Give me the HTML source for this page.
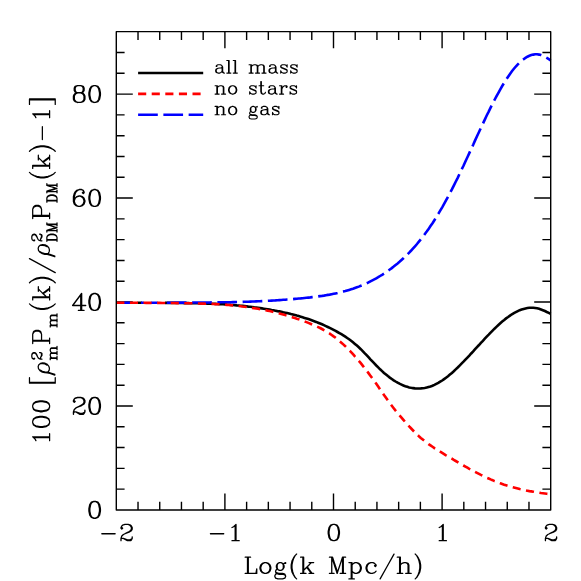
<!DOCTYPE html><html><head><meta charset="utf-8"><title>plot</title><style>html,body{margin:0;padding:0;background:#fff;font-family:"Liberation Serif",serif}svg{display:block}</style></head><body><svg width="581" height="581" viewBox="0 0 581 581">
<rect width="581" height="581" fill="#fff"/>
<path d="M138.02 509.95v-8.30M138.02 31.65v8.30M159.74 509.95v-8.30M159.74 31.65v8.30M181.46 509.95v-8.30M181.46 31.65v8.30M203.18 509.95v-8.30M203.18 31.65v8.30M224.90 509.95v-16.50M224.90 31.65v16.50M246.62 509.95v-8.30M246.62 31.65v8.30M268.34 509.95v-8.30M268.34 31.65v8.30M290.06 509.95v-8.30M290.06 31.65v8.30M311.78 509.95v-8.30M311.78 31.65v8.30M333.50 509.95v-16.50M333.50 31.65v16.50M355.22 509.95v-8.30M355.22 31.65v8.30M376.94 509.95v-8.30M376.94 31.65v8.30M398.66 509.95v-8.30M398.66 31.65v8.30M420.38 509.95v-8.30M420.38 31.65v8.30M442.10 509.95v-16.50M442.10 31.65v16.50M463.82 509.95v-8.30M463.82 31.65v8.30M485.54 509.95v-8.30M485.54 31.65v8.30M507.26 509.95v-8.30M507.26 31.65v8.30M528.98 509.95v-8.30M528.98 31.65v8.30M116.30 489.16h8.30M550.70 489.16h-8.30M116.30 468.37h8.30M550.70 468.37h-8.30M116.30 447.57h8.30M550.70 447.57h-8.30M116.30 426.78h8.30M550.70 426.78h-8.30M116.30 405.99h16.50M550.70 405.99h-16.50M116.30 385.20h8.30M550.70 385.20h-8.30M116.30 364.41h8.30M550.70 364.41h-8.30M116.30 343.61h8.30M550.70 343.61h-8.30M116.30 322.82h8.30M550.70 322.82h-8.30M116.30 302.03h16.50M550.70 302.03h-16.50M116.30 281.24h8.30M550.70 281.24h-8.30M116.30 260.45h8.30M550.70 260.45h-8.30M116.30 239.65h8.30M550.70 239.65h-8.30M116.30 218.86h8.30M550.70 218.86h-8.30M116.30 198.07h16.50M550.70 198.07h-16.50M116.30 177.28h8.30M550.70 177.28h-8.30M116.30 156.49h8.30M550.70 156.49h-8.30M116.30 135.69h8.30M550.70 135.69h-8.30M116.30 114.90h8.30M550.70 114.90h-8.30M116.30 94.11h16.50M550.70 94.11h-16.50M116.30 73.32h8.30M550.70 73.32h-8.30M116.30 52.53h8.30M550.70 52.53h-8.30" stroke="#000" stroke-width="1.40" fill="none"/>
<g fill="none" stroke-width="2.60">
<path d="M137.42 302.80L139.79 302.81L142.17 302.81M165.0 302.9L166.9 302.9L168.9 302.9L170.8 302.9L172.8 302.9L174.7 303.0L176.6 303.0L178.6 303.0L180.5 303.0L182.4 303.0L184.4 303.1L186.3 303.1L188.3 303.1L190.2 303.2L192.1 303.2L194.1 303.2L196.0 303.3L197.9 303.3L199.9 303.4L201.8 303.4L203.8 303.5L205.7 303.5L207.6 303.6L209.6 303.6L211.5 303.7L213.5 303.8L215.4 303.9L217.3 304.0L219.3 304.1L221.2 304.2L223.1 304.3L225.1 304.4L227.0 304.6L229.0 304.7L230.9 304.9L232.8 305.0L234.8 305.2L236.7 305.4L238.7 305.5L240.6 305.7L242.5 305.9L244.5 306.1L246.4 306.3L248.3 306.6L250.3 306.8L252.2 307.0L254.2 307.3L256.1 307.5L258.0 307.8L260.0 308.1L261.9 308.4L263.8 308.7L265.8 309.0L267.7 309.3L269.7 309.6L271.6 310.0L273.5 310.3L275.5 310.7L277.4 311.1L279.4 311.4L281.3 311.8L283.2 312.3L285.2 312.7L287.1 313.1L289.0 313.6L291.0 314.1L292.9 314.5L294.9 315.0L296.8 315.6L298.7 316.1L300.7 316.7L302.6 317.3L304.5 317.9L306.5 318.5L308.4 319.1L310.4 319.8L312.3 320.5L314.2 321.2L316.2 321.9L318.1 322.7L320.1 323.5L322.0 324.3L323.9 325.2L325.9 326.1L327.8 327.0L329.7 327.9L331.7 328.9L333.6 329.9L335.6 330.9L337.5 332.0L339.4 333.1L341.4 334.2L343.3 335.4L345.3 336.7L347.2 338.0L349.1 339.3L351.1 340.8L353.0 342.3L354.9 343.9L356.9 345.6L358.8 347.3L360.8 349.2L362.7 351.1L364.6 353.1L366.6 355.1L368.5 357.2L370.4 359.3L372.4 361.4L374.3 363.4L376.3 365.5L378.2 367.4L380.1 369.3L382.1 371.1L384.0 372.9L386.0 374.5L387.9 376.1L389.8 377.6L391.8 379.0L393.7 380.3L395.6 381.5L397.6 382.7L399.5 383.7L401.5 384.6L403.4 385.5L405.3 386.2L407.3 386.8L409.2 387.4L411.2 387.8L413.1 388.1L415.0 388.4L417.0 388.5L418.9 388.5L420.8 388.4L422.8 388.2L424.7 388.0L426.7 387.6L428.6 387.0L430.5 386.4L432.5 385.7L434.4 384.9L436.3 383.9L438.3 382.9L440.2 381.7L442.2 380.5L444.1 379.1L446.0 377.7L448.0 376.2L449.9 374.6L451.9 372.9L453.8 371.2L455.7 369.4L457.7 367.5L459.6 365.6L461.5 363.7L463.5 361.7L465.4 359.7L467.4 357.6L469.3 355.6L471.2 353.5L473.2 351.4L475.1 349.2L477.0 347.1L479.0 345.0L480.9 342.9L482.9 340.8L484.8 338.7L486.7 336.6L488.7 334.6L490.6 332.6L492.6 330.6L494.5 328.7L496.4 326.9L498.4 325.0L500.3 323.3L502.2 321.6L504.2 320.0L506.1 318.4L508.1 317.0L510.0 315.6L511.9 314.3L513.9 313.1L515.8 312.1L517.8 311.1L519.7 310.2L521.6 309.5L523.6 308.9L525.5 308.4L527.4 308.0L529.4 307.8L531.3 307.7L533.3 307.8L535.2 308.0L537.1 308.3L539.1 308.8L541.0 309.5L542.9 310.2L544.9 311.0L546.8 312.0L548.8 312.9L550.7 313.9" stroke="#000"/>
<path d="M123.82 302.80L126.05 302.80L128.27 302.80L130.50 302.80M140.97 302.80L142.53 302.80L144.10 302.79M151.02 302.78L153.25 302.77L155.47 302.76L157.70 302.74" stroke="#00f"/>
<path d="M165.0 302.7L166.9 302.7L168.9 302.7L170.8 302.7L172.8 302.7L174.7 302.6L176.6 302.6L178.6 302.6L180.5 302.6L182.4 302.6L184.4 302.6L186.3 302.5L188.3 302.5L190.2 302.5L192.1 302.5L194.1 302.5L196.0 302.5L197.9 302.5L199.9 302.5L201.8 302.5L203.8 302.5L205.7 302.5L207.6 302.5L209.6 302.5L211.5 302.4L213.5 302.4L215.4 302.4L217.3 302.4L219.3 302.4L221.2 302.3L223.1 302.3L225.1 302.3L227.0 302.2L229.0 302.2L230.9 302.2L232.8 302.1L234.8 302.1L236.7 302.0L238.7 302.0L240.6 301.9L242.5 301.9L244.5 301.8L246.4 301.7L248.3 301.7L250.3 301.6L252.2 301.5L254.2 301.5L256.1 301.4L258.0 301.3L260.0 301.2L261.9 301.1L263.8 301.0L265.8 300.9L267.7 300.8L269.7 300.7L271.6 300.6L273.5 300.5L275.5 300.4L277.4 300.2L279.4 300.1L281.3 300.0L283.2 299.8L285.2 299.7L287.1 299.5L289.0 299.4L291.0 299.2L292.9 299.1L294.9 298.9L296.8 298.7L298.7 298.5L300.7 298.4L302.6 298.2L304.5 298.0L306.5 297.8L308.4 297.6L310.4 297.4L312.3 297.1L314.2 296.9L316.2 296.7L318.1 296.4L320.1 296.1L322.0 295.9L323.9 295.6L325.9 295.2L327.8 294.9L329.7 294.6L331.7 294.2L333.6 293.8L335.6 293.4L337.5 293.0L339.4 292.5L341.4 292.1L343.3 291.6L345.3 291.1L347.2 290.5L349.1 289.9L351.1 289.3L353.0 288.7L354.9 288.0L356.9 287.3L358.8 286.6L360.8 285.8L362.7 285.0L364.6 284.2L366.6 283.3L368.5 282.4L370.4 281.4L372.4 280.4L374.3 279.4L376.3 278.3L378.2 277.2L380.1 276.0L382.1 274.8L384.0 273.6L386.0 272.3L387.9 270.9L389.8 269.5L391.8 268.1L393.7 266.6L395.6 265.0L397.6 263.4L399.5 261.8L401.5 260.0L403.4 258.3L405.3 256.4L407.3 254.5L409.2 252.6L411.2 250.5L413.1 248.4L415.0 246.3L417.0 244.0L418.9 241.7L420.8 239.3L422.8 236.8L424.7 234.3L426.7 231.6L428.6 228.9L430.5 226.1L432.5 223.2L434.4 220.2L436.3 217.1L438.3 213.9L440.2 210.6L442.2 207.3L444.1 203.9L446.0 200.4L448.0 196.8L449.9 193.1L451.9 189.4L453.8 185.6L455.7 181.7L457.7 177.8L459.6 173.8L461.5 169.8L463.5 165.7L465.4 161.5L467.4 157.3L469.3 153.1L471.2 148.9L473.2 144.7L475.1 140.4L477.0 136.2L479.0 132.0L480.9 127.8L482.9 123.7L484.8 119.6L486.7 115.5L488.7 111.6L490.6 107.6L492.6 103.8L494.5 100.0L496.4 96.4L498.4 92.8L500.3 89.3L502.2 86.0L504.2 82.8L506.1 79.7L508.1 76.7L510.0 73.9L511.9 71.3L513.9 68.8L515.8 66.5L517.8 64.4L519.7 62.5L521.6 60.7L523.6 59.2L525.5 57.9L527.4 56.7L529.4 55.8L531.3 55.1L533.3 54.6L535.2 54.3L537.1 54.3L539.1 54.6L541.0 55.1L542.9 55.8L544.9 56.8L546.8 57.9L548.8 59.1L550.7 60.3" stroke="#00f" stroke-dasharray="19.7 5.57" stroke-dashoffset="23.430"/>
<path d="M116.30 302.80L119.01 302.80L121.71 302.80L124.42 302.80M129.90 302.80L132.61 302.80L135.31 302.80L138.02 302.81M143.50 302.82L146.21 302.83L148.91 302.84L151.62 302.86M157.10 302.89L159.73 302.91L162.37 302.93L165.00 302.95" stroke="#f00"/>
<path d="M165.0 302.9L166.9 303.0L168.9 303.0L170.8 303.0L172.8 303.0L174.7 303.0L176.6 303.1L178.6 303.1L180.5 303.1L182.4 303.1L184.4 303.2L186.3 303.2L188.3 303.3L190.2 303.3L192.1 303.3L194.1 303.4L196.0 303.4L197.9 303.5L199.9 303.5L201.8 303.6L203.8 303.6L205.7 303.7L207.6 303.7L209.6 303.8L211.5 303.9L213.5 304.0L215.4 304.1L217.3 304.2L219.3 304.3L221.2 304.4L223.1 304.6L225.1 304.7L227.0 304.9L229.0 305.0L230.9 305.2L232.8 305.4L234.8 305.6L236.7 305.8L238.7 306.0L240.6 306.2L242.5 306.5L244.5 306.7L246.4 307.0L248.3 307.3L250.3 307.6L252.2 307.9L254.2 308.2L256.1 308.5L258.0 308.8L260.0 309.2L261.9 309.5L263.8 309.9L265.8 310.3L267.7 310.7L269.7 311.1L271.6 311.6L273.5 312.0L275.5 312.5L277.4 313.0L279.4 313.5L281.3 314.0L283.2 314.5L285.2 315.1L287.1 315.6L289.0 316.2L291.0 316.8L292.9 317.4L294.9 318.0L296.8 318.7L298.7 319.3L300.7 320.0L302.6 320.7L304.5 321.4L306.5 322.1L308.4 322.9L310.4 323.7L312.3 324.5L314.2 325.3L316.2 326.2L318.1 327.1L320.1 328.0L322.0 329.0L323.9 330.1L325.9 331.2L327.8 332.4L329.7 333.6L331.7 335.0L333.6 336.4L335.6 337.8L337.5 339.4L339.4 341.0L341.4 342.7L343.3 344.4L345.3 346.2L347.2 348.1L349.1 350.1L351.1 352.1L353.0 354.2L354.9 356.4L356.9 358.6L358.8 360.9L360.8 363.2L362.7 365.6L364.6 368.1L366.6 370.6L368.5 373.1L370.4 375.7L372.4 378.4L374.3 381.1L376.3 383.8L378.2 386.6L380.1 389.4L382.1 392.2L384.0 395.0L386.0 397.8L387.9 400.5L389.8 403.1L391.8 405.7L393.7 408.2L395.6 410.6L397.6 413.0L399.5 415.3L401.5 417.6L403.4 419.9L405.3 422.1L407.3 424.3L409.2 426.4L411.2 428.5L413.1 430.5L415.0 432.5L417.0 434.4L418.9 436.2L420.8 437.9L422.8 439.5L424.7 441.1L426.7 442.6L428.6 444.1L430.5 445.4L432.5 446.8L434.4 448.1L436.3 449.3L438.3 450.5L440.2 451.7L442.2 452.9L444.1 454.1L446.0 455.3L448.0 456.4L449.9 457.6L451.9 458.7L453.8 459.9L455.7 461.0L457.7 462.2L459.6 463.3L461.5 464.4L463.5 465.5L465.4 466.6L467.4 467.7L469.3 468.8L471.2 469.8L473.2 470.9L475.1 471.9L477.0 472.9L479.0 473.9L480.9 474.9L482.9 475.8L484.8 476.7L486.7 477.7L488.7 478.5L490.6 479.4L492.6 480.2L494.5 481.1L496.4 481.8L498.4 482.6L500.3 483.3L502.2 484.0L504.2 484.7L506.1 485.3L508.1 485.9L510.0 486.5L511.9 487.1L513.9 487.6L515.8 488.1L517.8 488.6L519.7 489.1L521.6 489.5L523.6 489.9L525.5 490.3L527.4 490.7L529.4 491.1L531.3 491.4L533.3 491.7L535.2 492.1L537.1 492.4L539.1 492.7L541.0 493.0L542.9 493.2L544.9 493.5L546.8 493.8L548.8 494.0L550.7 494.3" stroke="#f00" stroke-dasharray="8.12 5.48" stroke-dashoffset="7.900"/>
</g>
<g fill="none" stroke-width="2.60">
<path d="M138.1 73.0H203.2" stroke="#000"/>
<path d="M138.1 93.9H203.2" stroke="#f00" stroke-dasharray="8.12 5.48"/>
<path d="M138.1 114.8H203.2" stroke="#00f" stroke-dasharray="19.7 5.57"/>
</g>
<rect x="116.30" y="31.65" width="434.40" height="478.30" fill="none" stroke="#000" stroke-width="1.40" stroke-linejoin="round"/>
<g fill="none" stroke="#000" stroke-linecap="round" stroke-linejoin="round"><path stroke-width="1.1" d="M216.83 65.90L216.83 66.50L216.24 66.50L216.24 65.90L216.83 65.30L218.00 64.70L218.59 64.70L219.17 64.70L219.76 64.70L220.35 64.70L221.52 65.30L222.10 65.90L222.10 66.50L222.10 67.10L221.52 67.70L218.00 68.30L216.24 68.90L215.66 70.10L215.66 70.70L215.66 71.30L216.24 72.50L218.00 73.10L216.83 72.50L216.24 71.30L216.24 70.70L216.24 70.10L216.83 68.90L218.00 68.30M218.00 73.10L218.59 73.10L219.17 73.10L219.76 73.10L220.93 72.50L221.52 71.90L222.10 71.30L222.10 70.70L222.10 70.10L222.10 69.50L222.10 68.90L222.10 68.30L222.10 67.70L222.10 67.10M222.10 65.90L222.69 67.10L222.69 67.70L222.69 68.30L222.69 68.90L222.69 69.50L222.69 70.10L222.69 70.70L222.69 71.30L223.28 72.50L223.86 73.10L222.69 72.50L222.10 71.30M223.86 73.10L224.45 73.10M226.79 60.50L227.38 60.50L227.96 60.50L228.55 60.50L229.14 60.50L229.14 61.10L229.14 61.70L229.14 62.30L229.14 62.90L229.14 63.50L229.14 64.10L229.14 64.70L229.14 65.30L229.14 65.90L229.14 66.50L229.14 67.10L229.14 67.70L229.14 68.30L229.14 68.90L229.14 69.50L229.14 70.10L229.14 70.70L229.14 71.30L229.14 71.90L229.14 72.50L229.14 73.10L228.55 73.10L228.55 72.50L228.55 71.90L228.55 71.30L228.55 70.70L228.55 70.10L228.55 69.50L228.55 68.90L228.55 68.30L228.55 67.70L228.55 67.10L228.55 66.50L228.55 65.90L228.55 65.30L228.55 64.70L228.55 64.10L228.55 63.50L228.55 62.90L228.55 62.30L228.55 61.70L228.55 61.10L228.55 60.50M226.79 73.10L227.38 73.10L227.96 73.10L228.55 73.10M229.14 73.10L229.72 73.10L230.31 73.10L230.89 73.10M233.24 60.50L233.82 60.50L234.41 60.50L235.00 60.50L235.58 60.50L235.58 61.10L235.58 61.70L235.58 62.30L235.58 62.90L235.58 63.50L235.58 64.10L235.58 64.70L235.58 65.30L235.58 65.90L235.58 66.50L235.58 67.10L235.58 67.70L235.58 68.30L235.58 68.90L235.58 69.50L235.58 70.10L235.58 70.70L235.58 71.30L235.58 71.90L235.58 72.50L235.58 73.10L235.00 73.10L235.00 72.50L235.00 71.90L235.00 71.30L235.00 70.70L235.00 70.10L235.00 69.50L235.00 68.90L235.00 68.30L235.00 67.70L235.00 67.10L235.00 66.50L235.00 65.90L235.00 65.30L235.00 64.70L235.00 64.10L235.00 63.50L235.00 62.90L235.00 62.30L235.00 61.70L235.00 61.10L235.00 60.50M233.24 73.10L233.82 73.10L234.41 73.10L235.00 73.10M235.58 73.10L236.17 73.10L236.75 73.10L237.34 73.10M249.06 64.70L249.65 64.70L250.23 64.70L250.82 64.70L251.40 64.70L251.40 65.30L251.40 65.90L251.40 66.50L251.99 65.90L252.58 65.30L254.33 64.70L254.92 64.70L255.51 64.70L256.68 65.30L257.26 66.50L257.26 67.10L257.26 67.70L257.26 68.30L257.26 68.90L257.26 69.50L257.26 70.10L257.26 70.70L257.26 71.30L257.26 71.90L257.26 72.50L257.26 73.10L256.68 73.10L256.09 73.10L255.51 73.10M249.06 73.10L249.65 73.10L250.23 73.10L250.82 73.10L250.82 72.50L250.82 71.90L250.82 71.30L250.82 70.70L250.82 70.10L250.82 69.50L250.82 68.90L250.82 68.30L250.82 67.70L250.82 67.10L250.82 66.50L250.82 65.90L250.82 65.30L250.82 64.70M250.82 73.10L251.40 73.10L251.40 72.50L251.40 71.90L251.40 71.30L251.40 70.70L251.40 70.10L251.40 69.50L251.40 68.90L251.40 68.30L251.40 67.70L251.40 67.10L251.40 66.50M251.40 73.10L251.99 73.10L252.58 73.10L253.16 73.10M255.51 64.70L257.26 65.30L257.85 66.50L258.44 65.90L259.02 65.30L260.78 64.70L261.37 64.70L261.95 64.70L263.12 65.30L263.71 66.50L263.71 67.10L263.71 67.70L263.71 68.30L263.71 68.90L263.71 69.50L263.71 70.10L263.71 70.70L263.71 71.30L263.71 71.90L263.71 72.50L263.71 73.10L263.12 73.10L262.54 73.10L261.95 73.10M257.26 73.10L257.85 73.10L257.85 72.50L257.85 71.90L257.85 71.30L257.85 70.70L257.85 70.10L257.85 69.50L257.85 68.90L257.85 68.30L257.85 67.70L257.85 67.10L257.85 66.50M257.85 73.10L258.44 73.10L259.02 73.10L259.61 73.10M261.95 64.70L263.71 65.30L264.30 66.50L264.30 67.10L264.30 67.70L264.30 68.30L264.30 68.90L264.30 69.50L264.30 70.10L264.30 70.70L264.30 71.30L264.30 71.90L264.30 72.50L264.30 73.10L263.71 73.10M264.30 73.10L264.88 73.10L265.47 73.10L266.05 73.10M270.16 65.90L270.16 66.50L269.57 66.50L269.57 65.90L270.16 65.30L271.33 64.70L271.91 64.70L272.50 64.70L273.09 64.70L273.67 64.70L274.84 65.30L275.43 65.90L275.43 66.50L275.43 67.10L274.84 67.70L271.33 68.30L269.57 68.90L268.98 70.10L268.98 70.70L268.98 71.30L269.57 72.50L271.33 73.10L270.16 72.50L269.57 71.30L269.57 70.70L269.57 70.10L270.16 68.90L271.33 68.30M271.33 73.10L271.91 73.10L272.50 73.10L273.09 73.10L274.26 72.50L274.84 71.90L275.43 71.30L275.43 70.70L275.43 70.10L275.43 69.50L275.43 68.90L275.43 68.30L275.43 67.70L275.43 67.10M275.43 65.90L276.02 67.10L276.02 67.70L276.02 68.30L276.02 68.90L276.02 69.50L276.02 70.10L276.02 70.70L276.02 71.30L276.60 72.50L277.19 73.10L276.02 72.50L275.43 71.30M277.19 73.10L277.77 73.10M280.70 66.50L280.70 65.90L281.29 65.30L282.46 64.70L283.05 64.70L283.63 64.70L284.22 64.70L284.81 64.70L285.98 65.30L286.56 65.90L287.15 64.70L287.15 65.30L287.15 65.90L287.15 66.50L287.15 67.10L286.56 65.90M280.70 66.50L280.70 67.10L281.29 67.70L282.46 68.30L285.39 69.50L286.56 70.10L287.15 70.70L287.15 70.10L286.56 69.50L285.39 68.90L282.46 67.70L281.29 67.10L280.70 66.50M281.29 71.90L280.70 70.70L280.70 71.30L280.70 71.90L280.70 72.50L280.70 73.10L281.29 71.90L281.88 72.50L283.05 73.10L283.63 73.10L284.22 73.10L284.81 73.10L285.39 73.10L286.56 72.50L287.15 71.90L287.15 71.30L287.15 70.70M290.67 66.50L290.67 65.90L291.25 65.30L292.42 64.70L293.01 64.70L293.60 64.70L294.18 64.70L294.77 64.70L295.94 65.30L296.53 65.90L297.11 64.70L297.11 65.30L297.11 65.90L297.11 66.50L297.11 67.10L296.53 65.90M290.67 66.50L290.67 67.10L291.25 67.70L292.42 68.30L295.35 69.50L296.53 70.10L297.11 70.70L297.11 70.10L296.53 69.50L295.35 68.90L292.42 67.70L291.25 67.10L290.67 66.50M291.25 71.90L290.67 70.70L290.67 71.30L290.67 71.90L290.67 72.50L290.67 73.10L291.25 71.90L291.84 72.50L293.01 73.10L293.60 73.10L294.18 73.10L294.77 73.10L295.35 73.10L296.53 72.50L297.11 71.90L297.11 71.30L297.11 70.70M215.07 85.70L215.66 85.70L216.24 85.70L216.83 85.70L217.42 85.70L217.42 86.30L217.42 86.90L217.42 87.50L218.00 86.90L218.59 86.30L220.35 85.70L220.93 85.70L221.52 85.70L222.69 86.30L223.28 87.50L223.28 88.10L223.28 88.70L223.28 89.30L223.28 89.90L223.28 90.50L223.28 91.10L223.28 91.70L223.28 92.30L223.28 92.90L223.28 93.50L223.28 94.10L222.69 94.10L222.10 94.10L221.52 94.10M215.07 94.10L215.66 94.10L216.24 94.10L216.83 94.10L216.83 93.50L216.83 92.90L216.83 92.30L216.83 91.70L216.83 91.10L216.83 90.50L216.83 89.90L216.83 89.30L216.83 88.70L216.83 88.10L216.83 87.50L216.83 86.90L216.83 86.30L216.83 85.70M216.83 94.10L217.42 94.10L217.42 93.50L217.42 92.90L217.42 92.30L217.42 91.70L217.42 91.10L217.42 90.50L217.42 89.90L217.42 89.30L217.42 88.70L217.42 88.10L217.42 87.50M217.42 94.10L218.00 94.10L218.59 94.10L219.17 94.10M221.52 85.70L223.28 86.30L223.86 87.50L223.86 88.10L223.86 88.70L223.86 89.30L223.86 89.90L223.86 90.50L223.86 91.10L223.86 91.70L223.86 92.30L223.86 92.90L223.86 93.50L223.86 94.10L223.28 94.10M223.86 94.10L224.45 94.10L225.03 94.10L225.62 94.10M232.07 85.70L232.65 85.70L233.24 85.70L234.41 86.30L235.00 86.90L235.58 87.50L236.17 89.30L236.17 89.90L236.17 90.50L235.58 92.30L235.00 92.90L234.41 93.50L233.24 94.10L235.00 93.50L235.58 92.90L236.17 92.30L236.75 90.50L236.75 89.90L236.75 89.30L236.17 87.50L235.58 86.90L235.00 86.30L233.24 85.70M232.07 85.70L230.31 86.30L229.72 86.90L229.14 87.50L228.55 89.30L228.55 89.90L228.55 90.50L229.14 92.30L229.72 92.90L230.31 93.50L232.07 94.10L230.89 93.50L230.31 92.90L229.72 92.30L229.14 90.50L229.14 89.90L229.14 89.30L229.72 87.50L230.31 86.90L230.89 86.30L232.07 85.70M232.07 94.10L232.65 94.10L233.24 94.10M249.65 87.50L249.65 86.90L250.23 86.30L251.40 85.70L251.99 85.70L252.58 85.70L253.16 85.70L253.75 85.70L254.92 86.30L255.51 86.90L256.09 85.70L256.09 86.30L256.09 86.90L256.09 87.50L256.09 88.10L255.51 86.90M249.65 87.50L249.65 88.10L250.23 88.70L251.40 89.30L254.33 90.50L255.51 91.10L256.09 91.70L256.09 91.10L255.51 90.50L254.33 89.90L251.40 88.70L250.23 88.10L249.65 87.50M250.23 92.90L249.65 91.70L249.65 92.30L249.65 92.90L249.65 93.50L249.65 94.10L250.23 92.90L250.82 93.50L251.99 94.10L252.58 94.10L253.16 94.10L253.75 94.10L254.33 94.10L255.51 93.50L256.09 92.90L256.09 92.30L256.09 91.70M259.02 85.70L259.61 85.70L260.19 85.70L260.78 85.70L260.78 85.10L260.78 84.50L260.78 83.90L260.78 83.30L260.78 82.70L260.78 82.10L260.78 81.50M261.37 81.50L261.37 82.10L261.37 82.70L261.37 83.30L261.37 83.90L261.37 84.50L261.37 85.10L261.37 85.70L260.78 85.70L260.78 86.30L260.78 86.90L260.78 87.50L260.78 88.10L260.78 88.70L260.78 89.30L260.78 89.90L260.78 90.50L260.78 91.10L260.78 91.70L261.37 93.50L262.54 94.10L261.95 93.50L261.37 91.70L261.37 91.10L261.37 90.50L261.37 89.90L261.37 89.30L261.37 88.70L261.37 88.10L261.37 87.50L261.37 86.90L261.37 86.30L261.37 85.70L261.95 85.70L262.54 85.70L263.12 85.70L263.71 85.70M262.54 94.10L263.12 94.10L263.71 94.10L264.88 93.50L265.47 92.30M269.57 86.90L269.57 87.50L268.98 87.50L268.98 86.90L269.57 86.30L270.74 85.70L271.33 85.70L271.91 85.70L272.50 85.70L273.09 85.70L274.26 86.30L274.84 86.90L274.84 87.50L274.84 88.10L274.26 88.70L270.74 89.30L268.98 89.90L268.40 91.10L268.40 91.70L268.40 92.30L268.98 93.50L270.74 94.10L269.57 93.50L268.98 92.30L268.98 91.70L268.98 91.10L269.57 89.90L270.74 89.30M270.74 94.10L271.33 94.10L271.91 94.10L272.50 94.10L273.67 93.50L274.26 92.90L274.84 92.30L274.84 91.70L274.84 91.10L274.84 90.50L274.84 89.90L274.84 89.30L274.84 88.70L274.84 88.10M274.84 86.90L275.43 88.10L275.43 88.70L275.43 89.30L275.43 89.90L275.43 90.50L275.43 91.10L275.43 91.70L275.43 92.30L276.02 93.50L276.60 94.10L275.43 93.50L274.84 92.30M276.60 94.10L277.19 94.10M279.53 85.70L280.12 85.70L280.70 85.70L281.29 85.70L281.88 85.70L281.88 86.30L281.88 86.90L281.88 87.50L281.88 88.10L281.88 88.70L281.88 89.30L282.46 87.50L283.05 86.90L283.63 86.30L284.81 85.70L285.39 85.70L285.98 85.70L286.56 85.70L287.15 86.30L287.15 86.90L286.56 87.50L285.98 86.90L286.56 86.30M279.53 94.10L280.12 94.10L280.70 94.10L281.29 94.10L281.29 93.50L281.29 92.90L281.29 92.30L281.29 91.70L281.29 91.10L281.29 90.50L281.29 89.90L281.29 89.30L281.29 88.70L281.29 88.10L281.29 87.50L281.29 86.90L281.29 86.30L281.29 85.70M281.29 94.10L281.88 94.10L281.88 93.50L281.88 92.90L281.88 92.30L281.88 91.70L281.88 91.10L281.88 90.50L281.88 89.90L281.88 89.30M281.88 94.10L282.46 94.10L283.05 94.10L283.63 94.10M290.08 87.50L290.08 86.90L290.67 86.30L291.84 85.70L292.42 85.70L293.01 85.70L293.60 85.70L294.18 85.70L295.35 86.30L295.94 86.90L296.53 85.70L296.53 86.30L296.53 86.90L296.53 87.50L296.53 88.10L295.94 86.90M290.08 87.50L290.08 88.10L290.67 88.70L291.84 89.30L294.77 90.50L295.94 91.10L296.53 91.70L296.53 91.10L295.94 90.50L294.77 89.90L291.84 88.70L290.67 88.10L290.08 87.50M290.67 92.90L290.08 91.70L290.08 92.30L290.08 92.90L290.08 93.50L290.08 94.10L290.67 92.90L291.25 93.50L292.42 94.10L293.01 94.10L293.60 94.10L294.18 94.10L294.77 94.10L295.94 93.50L296.53 92.90L296.53 92.30L296.53 91.70M215.07 106.40L215.66 106.40L216.24 106.40L216.83 106.40L217.42 106.40L217.42 107.00L217.42 107.60L217.42 108.20L218.00 107.60L218.59 107.00L220.35 106.40L220.93 106.40L221.52 106.40L222.69 107.00L223.28 108.20L223.28 108.80L223.28 109.40L223.28 110.00L223.28 110.60L223.28 111.20L223.28 111.80L223.28 112.40L223.28 113.00L223.28 113.60L223.28 114.20L223.28 114.80L222.69 114.80L222.10 114.80L221.52 114.80M215.07 114.80L215.66 114.80L216.24 114.80L216.83 114.80L216.83 114.20L216.83 113.60L216.83 113.00L216.83 112.40L216.83 111.80L216.83 111.20L216.83 110.60L216.83 110.00L216.83 109.40L216.83 108.80L216.83 108.20L216.83 107.60L216.83 107.00L216.83 106.40M216.83 114.80L217.42 114.80L217.42 114.20L217.42 113.60L217.42 113.00L217.42 112.40L217.42 111.80L217.42 111.20L217.42 110.60L217.42 110.00L217.42 109.40L217.42 108.80L217.42 108.20M217.42 114.80L218.00 114.80L218.59 114.80L219.17 114.80M221.52 106.40L223.28 107.00L223.86 108.20L223.86 108.80L223.86 109.40L223.86 110.00L223.86 110.60L223.86 111.20L223.86 111.80L223.86 112.40L223.86 113.00L223.86 113.60L223.86 114.20L223.86 114.80L223.28 114.80M223.86 114.80L224.45 114.80L225.03 114.80L225.62 114.80M232.07 106.40L232.65 106.40L233.24 106.40L234.41 107.00L235.00 107.60L235.58 108.20L236.17 110.00L236.17 110.60L236.17 111.20L235.58 113.00L235.00 113.60L234.41 114.20L233.24 114.80L235.00 114.20L235.58 113.60L236.17 113.00L236.75 111.20L236.75 110.60L236.75 110.00L236.17 108.20L235.58 107.60L235.00 107.00L233.24 106.40M232.07 106.40L230.31 107.00L229.72 107.60L229.14 108.20L228.55 110.00L228.55 110.60L228.55 111.20L229.14 113.00L229.72 113.60L230.31 114.20L232.07 114.80L230.89 114.20L230.31 113.60L229.72 113.00L229.14 111.20L229.14 110.60L229.14 110.00L229.72 108.20L230.31 107.60L230.89 107.00L232.07 106.40M232.07 114.80L232.65 114.80L233.24 114.80M249.65 113.60L249.65 113.00L250.23 111.80L250.82 111.20L250.23 110.00L250.23 109.40L250.23 108.80L250.82 107.60L251.40 107.00L252.58 106.40L253.16 106.40L253.75 106.40L254.92 107.00L255.51 107.60L256.09 107.00L257.26 106.40L257.26 107.00L256.68 107.00L256.09 107.00M249.65 113.60L250.23 114.20L251.99 114.80L252.58 114.80L253.16 114.80L253.75 114.80L254.33 114.80L254.92 114.80L256.68 115.40L257.26 116.60L256.68 116.00L254.92 115.40L254.33 115.40L253.75 115.40L253.16 115.40L252.58 115.40L251.99 115.40L250.23 114.80L249.65 113.60M250.82 111.20L251.40 111.80L250.82 110.60L250.82 110.00L250.82 109.40L250.82 108.80L250.82 108.20L251.40 107.00M251.40 111.80L252.58 112.40L253.16 112.40L253.75 112.40L254.92 111.80L255.51 110.60L255.51 110.00L255.51 109.40L255.51 108.80L255.51 108.20L254.92 107.00M251.40 114.80L249.65 115.40L249.06 116.60L249.06 117.20L249.65 118.40L251.40 119.00L251.99 119.00L252.58 119.00L253.16 119.00L253.75 119.00L254.33 119.00L254.92 119.00L256.68 118.40L257.26 117.20L257.26 116.60M254.92 111.80L255.51 111.20L256.09 110.00L256.09 109.40L256.09 108.80L255.51 107.60M261.95 107.60L261.95 108.20L261.37 108.20L261.37 107.60L261.95 107.00L263.12 106.40L263.71 106.40L264.30 106.40L264.88 106.40L265.47 106.40L266.64 107.00L267.23 107.60L267.23 108.20L267.23 108.80L266.64 109.40L263.12 110.00L261.37 110.60L260.78 111.80L260.78 112.40L260.78 113.00L261.37 114.20L263.12 114.80L261.95 114.20L261.37 113.00L261.37 112.40L261.37 111.80L261.95 110.60L263.12 110.00M263.12 114.80L263.71 114.80L264.30 114.80L264.88 114.80L266.05 114.20L266.64 113.60L267.23 113.00L267.23 112.40L267.23 111.80L267.23 111.20L267.23 110.60L267.23 110.00L267.23 109.40L267.23 108.80M267.23 107.60L267.81 108.80L267.81 109.40L267.81 110.00L267.81 110.60L267.81 111.20L267.81 111.80L267.81 112.40L267.81 113.00L268.40 114.20L268.98 114.80L267.81 114.20L267.23 113.00M268.98 114.80L269.57 114.80M272.50 108.20L272.50 107.60L273.09 107.00L274.26 106.40L274.84 106.40L275.43 106.40L276.02 106.40L276.60 106.40L277.77 107.00L278.36 107.60L278.95 106.40L278.95 107.00L278.95 107.60L278.95 108.20L278.95 108.80L278.36 107.60M272.50 108.20L272.50 108.80L273.09 109.40L274.26 110.00L277.19 111.20L278.36 111.80L278.95 112.40L278.95 111.80L278.36 111.20L277.19 110.60L274.26 109.40L273.09 108.80L272.50 108.20M273.09 113.60L272.50 112.40L272.50 113.00L272.50 113.60L272.50 114.20L272.50 114.80L273.09 113.60L273.67 114.20L274.84 114.80L275.43 114.80L276.02 114.80L276.60 114.80L277.19 114.80L278.36 114.20L278.95 113.60L278.95 113.00L278.95 112.40"/><path stroke-width="1.25" d="M35.91 440.65L35.11 439.09L34.30 438.31L33.50 437.53L32.70 436.75L33.50 436.75L34.30 436.75L35.11 436.75L35.91 436.75L36.72 436.75L37.52 436.75L38.33 436.75L39.14 436.75L39.94 436.75L40.75 436.75L41.55 436.75L42.36 436.75L43.16 436.75L43.97 436.75L44.77 436.75L45.58 436.75L46.38 436.75L47.19 436.75L47.99 436.75L48.80 436.75L49.60 436.75L49.60 437.53L48.80 437.53L47.99 437.53L47.19 437.53L46.38 437.53L45.58 437.53L44.77 437.53L43.97 437.53L43.16 437.53L42.36 437.53L41.55 437.53L40.75 437.53L39.94 437.53L39.14 437.53L38.33 437.53L37.52 437.53L36.72 437.53L35.91 437.53L35.11 437.53L34.30 437.53L33.50 437.53M49.60 440.65L49.60 439.87L49.60 439.09L49.60 438.31L49.60 437.53M49.60 436.75L49.60 435.97L49.60 435.19L49.60 434.41L49.60 433.63M32.70 422.69L32.70 421.91L32.70 421.13L33.50 419.57L34.30 418.79L35.91 418.01L39.94 417.23L40.75 417.23L41.55 417.23L42.36 417.23L46.38 418.01L47.99 418.79L48.80 419.57L49.60 421.13L48.80 418.79L46.38 417.23L42.36 416.45L41.55 416.45L40.75 416.45L39.94 416.45L35.91 417.23L33.50 418.79L32.70 421.13M32.70 422.69L33.50 425.03L35.91 426.59L39.94 427.37L40.75 427.37L41.55 427.37L42.36 427.37L46.38 426.59L48.80 425.03L49.60 422.69L48.80 424.25L47.99 425.03L46.38 425.81L42.36 426.59L41.55 426.59L40.75 426.59L39.94 426.59L35.91 425.81L34.30 425.03L33.50 424.25L32.70 422.69M49.60 422.69L49.60 421.91L49.60 421.13M32.70 407.08L32.70 406.30L32.70 405.52L33.50 403.96L34.30 403.18L35.91 402.40L39.94 401.62L40.75 401.62L41.55 401.62L42.36 401.62L46.38 402.40L47.99 403.18L48.80 403.96L49.60 405.52L48.80 403.18L46.38 401.62L42.36 400.84L41.55 400.84L40.75 400.84L39.94 400.84L35.91 401.62L33.50 403.18L32.70 405.52M32.70 407.08L33.50 409.42L35.91 410.98L39.94 411.76L40.75 411.76L41.55 411.76L42.36 411.76L46.38 410.98L48.80 409.42L49.60 407.08L48.80 408.64L47.99 409.42L46.38 410.20L42.36 410.98L41.55 410.98L40.75 410.98L39.94 410.98L35.91 410.20L34.30 409.42L33.50 408.64L32.70 407.08M49.60 407.08L49.60 406.30L49.60 405.52M29.48 382.40L29.48 383.18L30.28 383.18L31.09 383.18L31.89 383.18L32.70 383.18L33.50 383.18L34.31 383.18L35.11 383.18L35.92 383.18L36.72 383.18L37.53 383.18L38.33 383.18L39.14 383.18L39.94 383.18L40.75 383.18L41.55 383.18L42.36 383.18L43.16 383.18L43.97 383.18L44.77 383.18L45.58 383.18L46.38 383.18L47.19 383.18L47.99 383.18L48.80 383.18L49.60 383.18L50.41 383.18L51.21 383.18L52.02 383.18L52.82 383.18L53.63 383.18L54.43 383.18L55.24 383.18L55.24 382.40L54.43 382.40L53.63 382.40L52.82 382.40L52.02 382.40L51.21 382.40L50.41 382.40L49.60 382.40L48.80 382.40L47.99 382.40L47.19 382.40L46.38 382.40L45.58 382.40L44.77 382.40L43.97 382.40L43.16 382.40L42.36 382.40L41.55 382.40L40.75 382.40L39.94 382.40L39.14 382.40L38.33 382.40L37.53 382.40L36.72 382.40L35.92 382.40L35.11 382.40L34.31 382.40L33.50 382.40L32.70 382.40L31.89 382.40L31.09 382.40L30.28 382.40L29.48 382.40L29.48 381.62L29.48 380.84L29.48 380.06L29.48 379.28L29.48 378.50L29.48 377.72M55.24 382.40L55.24 381.62L55.24 380.84L55.24 380.06L55.24 379.28L55.24 378.50L55.24 377.72M54.83 375.14L50.00 373.42L47.19 372.80L44.77 372.72L42.36 372.10L39.94 370.69L38.49 368.74L38.17 366.56L38.81 364.76L40.42 363.44L42.68 362.89L45.09 363.20L47.27 364.37L48.88 366.32L49.44 368.20L49.20 370.07L48.31 371.63L47.02 372.64M54.83 374.44L49.92 372.72L47.19 372.02L44.77 371.94L42.36 371.32L40.26 370.07M40.58 363.75L42.68 363.67L44.93 363.98L47.02 365.08M40.99 359.13L40.50 359.13L39.05 358.66L38.57 358.20L38.09 357.73L37.61 356.79L36.64 354.45L35.67 353.05L34.71 352.58L34.22 352.58L33.74 352.58L32.78 353.05L32.29 353.52L31.81 354.92L31.81 355.39L31.81 355.86L31.81 356.32L31.81 356.79L32.29 358.20L32.78 358.66L33.74 359.13L34.22 359.13L34.71 358.66L34.22 358.20L33.74 358.66M40.99 359.13L40.50 358.66L40.50 358.20L40.50 357.73L41.47 355.39L41.47 354.92L41.47 354.45L41.47 353.98L40.99 353.05L40.50 352.58L40.02 352.58L39.54 352.58M40.99 359.13L41.47 359.13L41.95 359.13M40.50 357.73L41.95 355.39L41.95 354.92L41.95 354.45L41.95 353.98L41.95 353.52L41.47 353.05L40.50 352.58M37.61 356.79L37.12 355.86L36.64 354.92L35.67 353.52L34.71 353.05L34.22 353.05L33.74 353.05L32.78 353.52L32.29 353.98L31.81 354.92M50.24 359.63L50.24 359.18L50.24 358.72L50.24 358.27L50.24 357.81L50.73 357.81L51.21 357.81L51.69 357.81L51.21 357.36L50.73 356.91L50.24 355.54L50.24 355.09L50.24 354.64L50.73 353.73L51.69 353.27L52.18 353.27L52.66 353.27L53.14 353.27L53.63 353.27L54.11 353.27L54.59 353.27L55.07 353.27L55.56 353.27L56.04 353.27L56.52 353.27L57.01 353.27L57.01 353.73L57.01 354.18L57.01 354.64M57.01 359.63L57.01 359.18L57.01 358.72L57.01 358.27L56.52 358.27L56.04 358.27L55.56 358.27L55.07 358.27L54.59 358.27L54.11 358.27L53.63 358.27L53.14 358.27L52.66 358.27L52.18 358.27L51.69 358.27L51.21 358.27L50.73 358.27L50.24 358.27M57.01 358.27L57.01 357.81L56.52 357.81L56.04 357.81L55.56 357.81L55.07 357.81L54.59 357.81L54.11 357.81L53.63 357.81L53.14 357.81L52.66 357.81L52.18 357.81L51.69 357.81M57.01 357.81L57.01 357.36L57.01 356.91L57.01 356.45M50.24 354.64L50.73 353.27L51.69 352.82L51.21 352.37L50.73 351.91L50.24 350.55L50.24 350.10L50.24 349.64L50.73 348.73L51.69 348.28L52.18 348.28L52.66 348.28L53.14 348.28L53.63 348.28L54.11 348.28L54.59 348.28L55.07 348.28L55.56 348.28L56.04 348.28L56.52 348.28L57.01 348.28L57.01 348.73L57.01 349.19L57.01 349.64M57.01 353.27L57.01 352.82L56.52 352.82L56.04 352.82L55.56 352.82L55.07 352.82L54.59 352.82L54.11 352.82L53.63 352.82L53.14 352.82L52.66 352.82L52.18 352.82L51.69 352.82M57.01 352.82L57.01 352.37L57.01 351.91L57.01 351.46M50.24 349.64L50.73 348.28L51.69 347.83L52.18 347.83L52.66 347.83L53.14 347.83L53.63 347.83L54.11 347.83L54.59 347.83L55.07 347.83L55.56 347.83L56.04 347.83L56.52 347.83L57.01 347.83L57.01 348.28M57.01 347.83L57.01 347.37L57.01 346.92L57.01 346.46M32.70 343.52L32.70 342.74L32.70 341.96L32.70 341.18L32.70 340.40L32.70 339.62L32.70 338.84L32.70 338.06L32.70 337.28L32.70 336.50L32.70 335.72L32.70 334.94L32.70 334.16L33.50 332.60L34.31 331.82L35.92 331.04L36.72 331.04L37.53 331.04L38.33 331.04L39.94 331.82L40.75 332.60L41.55 334.16L40.75 331.82L39.94 331.04L38.33 330.26L37.53 330.26L36.72 330.26L35.92 330.26L34.31 331.04L33.50 331.82L32.70 334.16M49.60 343.52L49.60 342.74L49.60 341.96L49.60 341.18L48.80 341.18L47.99 341.18L47.19 341.18L46.38 341.18L45.58 341.18L44.77 341.18L43.97 341.18L43.16 341.18L42.36 341.18L41.55 341.18L40.75 341.18L39.94 341.18L39.14 341.18L38.33 341.18L37.53 341.18L36.72 341.18L35.92 341.18L35.11 341.18L34.31 341.18L33.50 341.18L32.70 341.18M49.60 341.18L49.60 340.40L48.80 340.40L47.99 340.40L47.19 340.40L46.38 340.40L45.58 340.40L44.77 340.40L43.97 340.40L43.16 340.40L42.36 340.40L41.55 340.40L40.75 340.40L39.94 340.40L39.14 340.40L38.33 340.40L37.53 340.40L36.72 340.40L35.92 340.40L35.11 340.40L34.31 340.40L33.50 340.40L32.70 340.40M41.55 340.40L41.55 339.62L41.55 338.84L41.55 338.06L41.55 337.28L41.55 336.50L41.55 335.72L41.55 334.94L41.55 334.16M49.60 340.40L49.60 339.62L49.60 338.84L49.60 338.06M50.24 326.99L50.24 326.54L50.24 326.08L50.24 325.63L50.24 325.18L50.73 325.18L51.21 325.18L51.69 325.18L51.21 324.72L50.73 324.27L50.24 322.91L50.24 322.45L50.24 322.00L50.73 321.09L51.69 320.64L52.18 320.64L52.66 320.64L53.14 320.64L53.63 320.64L54.11 320.64L54.59 320.64L55.07 320.64L55.56 320.64L56.04 320.64L56.52 320.64L57.01 320.64L57.01 321.09L57.01 321.54L57.01 322.00M57.01 326.99L57.01 326.54L57.01 326.08L57.01 325.63L56.52 325.63L56.04 325.63L55.56 325.63L55.07 325.63L54.59 325.63L54.11 325.63L53.63 325.63L53.14 325.63L52.66 325.63L52.18 325.63L51.69 325.63L51.21 325.63L50.73 325.63L50.24 325.63M57.01 325.63L57.01 325.18L56.52 325.18L56.04 325.18L55.56 325.18L55.07 325.18L54.59 325.18L54.11 325.18L53.63 325.18L53.14 325.18L52.66 325.18L52.18 325.18L51.69 325.18M57.01 325.18L57.01 324.72L57.01 324.27L57.01 323.81M50.24 322.00L50.73 320.64L51.69 320.18L51.21 319.73L50.73 319.28L50.24 317.91L50.24 317.46L50.24 317.01L50.73 316.10L51.69 315.64L52.18 315.64L52.66 315.64L53.14 315.64L53.63 315.64L54.11 315.64L54.59 315.64L55.07 315.64L55.56 315.64L56.04 315.64L56.52 315.64L57.01 315.64L57.01 316.10L57.01 316.55L57.01 317.01M57.01 320.64L57.01 320.18L56.52 320.18L56.04 320.18L55.56 320.18L55.07 320.18L54.59 320.18L54.11 320.18L53.63 320.18L53.14 320.18L52.66 320.18L52.18 320.18L51.69 320.18M57.01 320.18L57.01 319.73L57.01 319.28L57.01 318.82M50.24 317.01L50.73 315.64L51.69 315.19L52.18 315.19L52.66 315.19L53.14 315.19L53.63 315.19L54.11 315.19L54.59 315.19L55.07 315.19L55.56 315.19L56.04 315.19L56.52 315.19L57.01 315.19L57.01 315.64M57.01 315.19L57.01 314.74L57.01 314.28L57.01 313.83M31.09 305.42L30.28 304.64L29.48 303.86M31.09 305.42L32.70 306.20L34.31 306.98L36.72 307.76L40.75 308.54L41.55 308.54L42.36 308.54L43.16 308.54L43.97 308.54L47.99 307.76L50.41 306.98L52.02 306.20L53.63 305.42L51.21 306.98L49.60 307.76L47.99 308.54L43.97 309.32L43.16 309.32L42.36 309.32L41.55 309.32L40.75 309.32L36.72 308.54L35.11 307.76L33.50 306.98L31.09 305.42M53.63 305.42L54.43 304.64L55.24 303.86M32.70 299.95L32.70 299.17L32.70 298.39L32.70 297.61L32.70 296.83L33.50 296.83L34.31 296.83L35.11 296.83L35.92 296.83L36.72 296.83L37.53 296.83L38.33 296.83L39.14 296.83L39.94 296.83L40.75 296.83L41.55 296.83L42.36 296.83L43.16 296.83L43.97 296.83L44.77 296.83L45.58 296.83L46.38 296.83L45.58 296.05L44.77 295.27L43.97 294.49L43.16 293.71L42.36 292.93L41.55 292.15L40.75 291.37L39.94 290.59L39.14 289.81L38.33 289.03L38.33 289.81L38.33 290.59L38.33 291.37M49.60 299.95L49.60 299.17L49.60 298.39L49.60 297.61L48.80 297.61L47.99 297.61L47.19 297.61L46.38 297.61L45.58 297.61L44.77 297.61L43.97 297.61L43.16 297.61L42.36 297.61L41.55 297.61L40.75 297.61L39.94 297.61L39.14 297.61L38.33 297.61L37.53 297.61L36.72 297.61L35.92 297.61L35.11 297.61L34.31 297.61L33.50 297.61L32.70 297.61M49.60 297.61L49.60 296.83L48.80 296.83L47.99 296.83L47.19 296.83L46.38 296.83M49.60 296.83L49.60 296.05L49.60 295.27L49.60 294.49M43.16 293.71L46.38 291.37L49.60 289.03L49.60 289.81L49.60 290.59L49.60 291.37M43.16 292.93L46.38 290.59L49.60 288.25L49.60 289.03M38.33 289.03L38.33 288.25L38.33 287.47L38.33 286.69M49.60 288.25L49.60 287.47L49.60 286.69M29.48 282.77L30.28 281.99L31.09 281.21L32.70 280.43L34.31 279.65L36.72 278.87L40.75 278.09L41.55 278.09L42.36 278.09L43.16 278.09L43.97 278.09L47.99 278.87L50.41 279.65L52.02 280.43L53.63 281.21L51.21 279.65L49.60 278.87L47.99 278.09L43.97 277.31L43.16 277.31L42.36 277.31L41.55 277.31L40.75 277.31L36.72 278.09L35.11 278.87L33.50 279.65L31.09 281.21M55.24 282.77L54.43 281.99L53.63 281.21M55.24 272.62L42.36 265.60L29.48 258.58M54.83 256.77L50.00 255.06L47.19 254.43L44.77 254.35L42.36 253.73L39.94 252.33L38.49 250.38L38.17 248.19L38.81 246.40L40.42 245.07L42.68 244.53L45.09 244.84L47.27 246.01L48.88 247.96L49.44 249.83L49.20 251.70L48.31 253.26L47.02 254.28M54.83 256.07L49.92 254.35L47.19 253.65L44.77 253.57L42.36 252.95L40.26 251.70M40.58 245.38L42.68 245.31L44.93 245.62L47.02 246.71M40.99 240.77L40.50 240.77L39.05 240.30L38.57 239.83L38.09 239.36L37.61 238.43L36.64 236.09L35.67 234.68L34.71 234.21L34.22 234.21L33.74 234.21L32.78 234.68L32.29 235.15L31.81 236.55L31.81 237.02L31.81 237.49L31.81 237.96L31.81 238.43L32.29 239.83L32.78 240.30L33.74 240.77L34.22 240.77L34.71 240.30L34.22 239.83L33.74 240.30M40.99 240.77L40.50 240.30L40.50 239.83L40.50 239.36L41.47 237.02L41.47 236.55L41.47 236.09L41.47 235.62L40.99 234.68L40.50 234.21L40.02 234.21L39.54 234.21M40.99 240.77L41.47 240.77L41.95 240.77M40.50 239.36L41.95 237.02L41.95 236.55L41.95 236.09L41.95 235.62L41.95 235.15L41.47 234.68L40.50 234.21M37.61 238.43L37.12 237.49L36.64 236.55L35.67 235.15L34.71 234.68L34.22 234.68L33.74 234.68L32.78 235.15L32.29 235.62L31.81 236.55M46.86 241.33L46.86 240.91L46.86 240.49L46.86 240.06L46.86 239.64L46.86 239.22L46.86 238.80L46.86 238.38L46.86 237.96L46.86 237.54L46.86 237.12L47.35 236.27L47.83 235.85L48.31 235.43L49.28 235.01L50.73 234.59L51.21 234.59L51.69 234.59L52.18 234.59L52.66 234.59L53.14 234.59L54.59 235.01L55.56 235.43L56.04 235.85L56.52 236.27L57.01 237.12L56.52 235.85L56.04 235.43L55.56 235.01L54.59 234.59L53.14 234.17L52.66 234.17L52.18 234.17L51.69 234.17L51.21 234.17L50.73 234.17L49.28 234.59L48.31 235.01L47.83 235.43L47.35 235.85L46.86 237.12M57.01 241.33L57.01 240.91L57.01 240.49L57.01 240.06L56.52 240.06L56.04 240.06L55.56 240.06L55.07 240.06L54.59 240.06L54.11 240.06L53.63 240.06L53.14 240.06L52.66 240.06L52.18 240.06L51.69 240.06L51.21 240.06L50.73 240.06L50.24 240.06L49.76 240.06L49.28 240.06L48.80 240.06L48.31 240.06L47.83 240.06L47.35 240.06L46.86 240.06M57.01 240.06L57.01 239.64L56.52 239.64L56.04 239.64L55.56 239.64L55.07 239.64L54.59 239.64L54.11 239.64L53.63 239.64L53.14 239.64L52.66 239.64L52.18 239.64L51.69 239.64L51.21 239.64L50.73 239.64L50.24 239.64L49.76 239.64L49.28 239.64L48.80 239.64L48.31 239.64L47.83 239.64L47.35 239.64L46.86 239.64M57.01 239.64L57.01 239.22L57.01 238.80L57.01 238.38L57.01 237.96L57.01 237.54L57.01 237.12M46.86 232.02L46.86 231.59L46.86 231.15L46.86 230.72L46.86 230.28L48.31 229.85L49.76 229.41L51.21 228.98L52.66 228.54L54.11 228.11L55.56 227.67M57.01 232.02L57.01 231.59L57.01 231.15L57.01 230.72L56.52 230.72L56.04 230.72L55.56 230.72L55.07 230.72L54.59 230.72L54.11 230.72L53.63 230.72L53.14 230.72L52.66 230.72L52.18 230.72L51.69 230.72L51.21 230.72L50.73 230.72L50.24 230.72L49.76 230.72L49.28 230.72L48.80 230.72L48.31 230.72L47.83 230.72L47.35 230.72L46.86 230.72L48.31 230.28L49.76 229.85L51.21 229.41L52.66 228.98L54.11 228.54L55.56 228.11L57.01 227.67L55.56 227.24L54.11 226.80L52.66 226.37L51.21 225.93L49.76 225.50L48.31 225.06L46.86 224.63L46.86 224.19L46.86 223.76L46.86 223.32L46.86 222.88M57.01 230.72L57.01 230.28L57.01 229.85L57.01 229.41M57.01 225.93L57.01 225.50L57.01 225.06L57.01 224.63L56.52 224.63L56.04 224.63L55.56 224.63L55.07 224.63L54.59 224.63L54.11 224.63L53.63 224.63L53.14 224.63L52.66 224.63L52.18 224.63L51.69 224.63L51.21 224.63L50.73 224.63L50.24 224.63L49.76 224.63L49.28 224.63L48.80 224.63L48.31 224.63L47.83 224.63L47.35 224.63L46.86 224.63M57.01 224.63L57.01 224.19L56.52 224.19L56.04 224.19L55.56 224.19L55.07 224.19L54.59 224.19L54.11 224.19L53.63 224.19L53.14 224.19L52.66 224.19L52.18 224.19L51.69 224.19L51.21 224.19L50.73 224.19L50.24 224.19L49.76 224.19L49.28 224.19L48.80 224.19L48.31 224.19L47.83 224.19L47.35 224.19L46.86 224.19M57.01 224.19L57.01 223.76L57.01 223.32L57.01 222.88M32.70 218.59L32.70 217.81L32.70 217.03L32.70 216.25L32.70 215.47L32.70 214.69L32.70 213.91L32.70 213.13L32.70 212.35L32.70 211.57L32.70 210.79L32.70 210.01L32.70 209.23L33.50 207.67L34.31 206.89L35.92 206.11L36.72 206.11L37.53 206.11L38.33 206.11L39.94 206.89L40.75 207.67L41.55 209.23L40.75 206.89L39.94 206.11L38.33 205.33L37.53 205.33L36.72 205.33L35.92 205.33L34.31 206.11L33.50 206.89L32.70 209.23M49.60 218.59L49.60 217.81L49.60 217.03L49.60 216.25L48.80 216.25L47.99 216.25L47.19 216.25L46.38 216.25L45.58 216.25L44.77 216.25L43.97 216.25L43.16 216.25L42.36 216.25L41.55 216.25L40.75 216.25L39.94 216.25L39.14 216.25L38.33 216.25L37.53 216.25L36.72 216.25L35.92 216.25L35.11 216.25L34.31 216.25L33.50 216.25L32.70 216.25M49.60 216.25L49.60 215.47L48.80 215.47L47.99 215.47L47.19 215.47L46.38 215.47L45.58 215.47L44.77 215.47L43.97 215.47L43.16 215.47L42.36 215.47L41.55 215.47L40.75 215.47L39.94 215.47L39.14 215.47L38.33 215.47L37.53 215.47L36.72 215.47L35.92 215.47L35.11 215.47L34.31 215.47L33.50 215.47L32.70 215.47M41.55 215.47L41.55 214.69L41.55 213.91L41.55 213.13L41.55 212.35L41.55 211.57L41.55 210.79L41.55 210.01L41.55 209.23M49.60 215.47L49.60 214.69L49.60 213.91L49.60 213.13M46.86 202.13L46.86 201.71L46.86 201.29L46.86 200.87L46.86 200.45L46.86 200.03L46.86 199.61L46.86 199.18L46.86 198.76L46.86 198.34L46.86 197.92L47.35 197.08L47.83 196.66L48.31 196.24L49.28 195.82L50.73 195.39L51.21 195.39L51.69 195.39L52.18 195.39L52.66 195.39L53.14 195.39L54.59 195.82L55.56 196.24L56.04 196.66L56.52 197.08L57.01 197.92L56.52 196.66L56.04 196.24L55.56 195.82L54.59 195.39L53.14 194.97L52.66 194.97L52.18 194.97L51.69 194.97L51.21 194.97L50.73 194.97L49.28 195.39L48.31 195.82L47.83 196.24L47.35 196.66L46.86 197.92M57.01 202.13L57.01 201.71L57.01 201.29L57.01 200.87L56.52 200.87L56.04 200.87L55.56 200.87L55.07 200.87L54.59 200.87L54.11 200.87L53.63 200.87L53.14 200.87L52.66 200.87L52.18 200.87L51.69 200.87L51.21 200.87L50.73 200.87L50.24 200.87L49.76 200.87L49.28 200.87L48.80 200.87L48.31 200.87L47.83 200.87L47.35 200.87L46.86 200.87M57.01 200.87L57.01 200.45L56.52 200.45L56.04 200.45L55.56 200.45L55.07 200.45L54.59 200.45L54.11 200.45L53.63 200.45L53.14 200.45L52.66 200.45L52.18 200.45L51.69 200.45L51.21 200.45L50.73 200.45L50.24 200.45L49.76 200.45L49.28 200.45L48.80 200.45L48.31 200.45L47.83 200.45L47.35 200.45L46.86 200.45M57.01 200.45L57.01 200.03L57.01 199.61L57.01 199.18L57.01 198.76L57.01 198.34L57.01 197.92M46.86 192.83L46.86 192.39L46.86 191.96L46.86 191.52L46.86 191.09L48.31 190.65L49.76 190.22L51.21 189.78L52.66 189.35L54.11 188.91L55.56 188.48M57.01 192.83L57.01 192.39L57.01 191.96L57.01 191.52L56.52 191.52L56.04 191.52L55.56 191.52L55.07 191.52L54.59 191.52L54.11 191.52L53.63 191.52L53.14 191.52L52.66 191.52L52.18 191.52L51.69 191.52L51.21 191.52L50.73 191.52L50.24 191.52L49.76 191.52L49.28 191.52L48.80 191.52L48.31 191.52L47.83 191.52L47.35 191.52L46.86 191.52L48.31 191.09L49.76 190.65L51.21 190.22L52.66 189.78L54.11 189.35L55.56 188.91L57.01 188.48L55.56 188.04L54.11 187.61L52.66 187.17L51.21 186.74L49.76 186.30L48.31 185.87L46.86 185.43L46.86 185.00L46.86 184.56L46.86 184.12L46.86 183.69M57.01 191.52L57.01 191.09L57.01 190.65L57.01 190.22M57.01 186.74L57.01 186.30L57.01 185.87L57.01 185.43L56.52 185.43L56.04 185.43L55.56 185.43L55.07 185.43L54.59 185.43L54.11 185.43L53.63 185.43L53.14 185.43L52.66 185.43L52.18 185.43L51.69 185.43L51.21 185.43L50.73 185.43L50.24 185.43L49.76 185.43L49.28 185.43L48.80 185.43L48.31 185.43L47.83 185.43L47.35 185.43L46.86 185.43M57.01 185.43L57.01 185.00L56.52 185.00L56.04 185.00L55.56 185.00L55.07 185.00L54.59 185.00L54.11 185.00L53.63 185.00L53.14 185.00L52.66 185.00L52.18 185.00L51.69 185.00L51.21 185.00L50.73 185.00L50.24 185.00L49.76 185.00L49.28 185.00L48.80 185.00L48.31 185.00L47.83 185.00L47.35 185.00L46.86 185.00M57.01 185.00L57.01 184.56L57.01 184.12L57.01 183.69M31.09 173.94L30.28 173.16L29.48 172.38M31.09 173.94L32.70 174.72L34.31 175.50L36.72 176.28L40.75 177.06L41.55 177.06L42.36 177.06L43.16 177.06L43.97 177.06L47.99 176.28L50.41 175.50L52.02 174.72L53.63 173.94L51.21 175.50L49.60 176.28L47.99 177.06L43.97 177.84L43.16 177.84L42.36 177.84L41.55 177.84L40.75 177.84L36.72 177.06L35.11 176.28L33.50 175.50L31.09 173.94M53.63 173.94L54.43 173.16L55.24 172.38M32.70 168.47L32.70 167.69L32.70 166.91L32.70 166.13L32.70 165.35L33.50 165.35L34.31 165.35L35.11 165.35L35.92 165.35L36.72 165.35L37.53 165.35L38.33 165.35L39.14 165.35L39.94 165.35L40.75 165.35L41.55 165.35L42.36 165.35L43.16 165.35L43.97 165.35L44.77 165.35L45.58 165.35L46.38 165.35L45.58 164.57L44.77 163.79L43.97 163.01L43.16 162.23L42.36 161.45L41.55 160.67L40.75 159.89L39.94 159.11L39.14 158.33L38.33 157.55L38.33 158.33L38.33 159.11L38.33 159.89M49.60 168.47L49.60 167.69L49.60 166.91L49.60 166.13L48.80 166.13L47.99 166.13L47.19 166.13L46.38 166.13L45.58 166.13L44.77 166.13L43.97 166.13L43.16 166.13L42.36 166.13L41.55 166.13L40.75 166.13L39.94 166.13L39.14 166.13L38.33 166.13L37.53 166.13L36.72 166.13L35.92 166.13L35.11 166.13L34.31 166.13L33.50 166.13L32.70 166.13M49.60 166.13L49.60 165.35L48.80 165.35L47.99 165.35L47.19 165.35L46.38 165.35M49.60 165.35L49.60 164.57L49.60 163.79L49.60 163.01M43.16 162.23L46.38 159.89L49.60 157.55L49.60 158.33L49.60 159.11L49.60 159.89M43.16 161.45L46.38 159.11L49.60 156.77L49.60 157.55M38.33 157.55L38.33 156.77L38.33 155.99L38.33 155.21M49.60 156.77L49.60 155.99L49.60 155.21M29.48 151.29L30.28 150.51L31.09 149.73L32.70 148.95L34.31 148.17L36.72 147.39L40.75 146.61L41.55 146.61L42.36 146.61L43.16 146.61L43.97 146.61L47.99 147.39L50.41 148.17L52.02 148.95L53.63 149.73L51.21 148.17L49.60 147.39L47.99 146.61L43.97 145.83L43.16 145.83L42.36 145.83L41.55 145.83L40.75 145.83L36.72 146.61L35.11 147.39L33.50 148.17L31.09 149.73M55.24 151.29L54.43 150.51L53.63 149.73M42.36 139.58L42.36 126.63M35.92 117.72L35.11 116.16L34.31 115.38L33.50 114.60L32.70 113.82L33.50 113.82L34.31 113.82L35.11 113.82L35.92 113.82L36.72 113.82L37.53 113.82L38.33 113.82L39.14 113.82L39.94 113.82L40.75 113.82L41.55 113.82L42.36 113.82L43.16 113.82L43.97 113.82L44.77 113.82L45.58 113.82L46.38 113.82L47.19 113.82L47.99 113.82L48.80 113.82L49.60 113.82L49.60 114.60L48.80 114.60L47.99 114.60L47.19 114.60L46.38 114.60L45.58 114.60L44.77 114.60L43.97 114.60L43.16 114.60L42.36 114.60L41.55 114.60L40.75 114.60L39.94 114.60L39.14 114.60L38.33 114.60L37.53 114.60L36.72 114.60L35.92 114.60L35.11 114.60L34.31 114.60L33.50 114.60M49.60 117.72L49.60 116.94L49.60 116.16L49.60 115.38L49.60 114.60M49.60 113.82L49.60 113.04L49.60 112.26L49.60 111.48L49.60 110.70M29.48 104.44L29.48 103.66L29.48 102.88L29.48 102.10L29.48 101.32L29.48 100.54L29.48 99.76L29.48 98.98L30.28 98.98L31.09 98.98L31.89 98.98L32.70 98.98L33.50 98.98L34.31 98.98L35.11 98.98L35.92 98.98L36.72 98.98L37.53 98.98L38.33 98.98L39.14 98.98L39.94 98.98L40.75 98.98L41.55 98.98L42.36 98.98L43.16 98.98L43.97 98.98L44.77 98.98L45.58 98.98L46.38 98.98L47.19 98.98L47.99 98.98L48.80 98.98L49.60 98.98L50.41 98.98L51.21 98.98L52.02 98.98L52.82 98.98L53.63 98.98L54.43 98.98L55.24 98.98L55.24 99.76L54.43 99.76L53.63 99.76L52.82 99.76L52.02 99.76L51.21 99.76L50.41 99.76L49.60 99.76L48.80 99.76L47.99 99.76L47.19 99.76L46.38 99.76L45.58 99.76L44.77 99.76L43.97 99.76L43.16 99.76L42.36 99.76L41.55 99.76L40.75 99.76L39.94 99.76L39.14 99.76L38.33 99.76L37.53 99.76L36.72 99.76L35.92 99.76L35.11 99.76L34.31 99.76L33.50 99.76L32.70 99.76L31.89 99.76L31.09 99.76L30.28 99.76L29.48 99.76M55.24 104.44L55.24 103.66L55.24 102.88L55.24 102.10L55.24 101.32L55.24 100.54L55.24 99.76"/><path stroke-width="1.3" d="M101.84 533.73L115.12 533.73M121.00 539.15L121.00 538.38L121.80 536.05L122.60 535.28L123.40 534.50L125.00 533.73L129.00 532.18L131.40 530.62L132.20 529.08L132.20 528.30L132.20 527.53L131.40 525.98L130.60 525.20L128.20 524.43L127.40 524.43L126.60 524.43L125.80 524.43L125.00 524.43L122.60 525.20L121.80 525.98L121.00 527.53L121.00 528.30L121.80 529.08L122.60 528.30L121.80 527.53M121.00 539.15L121.80 538.38L122.60 538.38L123.40 538.38L127.40 539.93L128.20 539.93L129.00 539.93L129.80 539.93L131.40 539.15L132.20 538.38L132.20 537.60L132.20 536.83M121.00 539.15L121.00 539.93L121.00 540.70M123.40 538.38L127.40 540.70L128.20 540.70L129.00 540.70L129.80 540.70L130.60 540.70L131.40 539.93L132.20 538.38M125.00 533.73L126.60 532.95L128.20 532.18L130.60 530.62L131.40 529.08L131.40 528.30L131.40 527.53L130.60 525.98L129.80 525.20L128.20 524.43M210.44 533.73L223.72 533.73M232.00 527.53L233.60 526.75L234.40 525.98L235.20 525.20L236.00 524.43L236.00 525.20L236.00 525.98L236.00 526.75L236.00 527.53L236.00 528.30L236.00 529.08L236.00 529.85L236.00 530.62L236.00 531.40L236.00 532.18L236.00 532.95L236.00 533.73L236.00 534.50L236.00 535.28L236.00 536.05L236.00 536.83L236.00 537.60L236.00 538.38L236.00 539.15L236.00 539.93L236.00 540.70L235.20 540.70L235.20 539.93L235.20 539.15L235.20 538.38L235.20 537.60L235.20 536.83L235.20 536.05L235.20 535.28L235.20 534.50L235.20 533.73L235.20 532.95L235.20 532.18L235.20 531.40L235.20 530.62L235.20 529.85L235.20 529.08L235.20 528.30L235.20 527.53L235.20 526.75L235.20 525.98L235.20 525.20M232.00 540.70L232.80 540.70L233.60 540.70L234.40 540.70L235.20 540.70M236.00 540.70L236.80 540.70L237.60 540.70L238.40 540.70L239.20 540.70M333.02 524.43L333.82 524.43L334.62 524.43L336.22 525.20L337.02 525.98L337.82 527.53L338.62 531.40L338.62 532.18L338.62 532.95L338.62 533.73L337.82 537.60L337.02 539.15L336.22 539.93L334.62 540.70L337.02 539.93L338.62 537.60L339.42 533.73L339.42 532.95L339.42 532.18L339.42 531.40L338.62 527.53L337.02 525.20L334.62 524.43M333.02 524.43L330.62 525.20L329.02 527.53L328.22 531.40L328.22 532.18L328.22 532.95L328.22 533.73L329.02 537.60L330.62 539.93L333.02 540.70L331.42 539.93L330.62 539.15L329.82 537.60L329.02 533.73L329.02 532.95L329.02 532.18L329.02 531.40L329.82 527.53L330.62 525.98L331.42 525.20L333.02 524.43M333.02 540.70L333.82 540.70L334.62 540.70M439.22 527.53L440.82 526.75L441.62 525.98L442.42 525.20L443.22 524.43L443.22 525.20L443.22 525.98L443.22 526.75L443.22 527.53L443.22 528.30L443.22 529.08L443.22 529.85L443.22 530.62L443.22 531.40L443.22 532.18L443.22 532.95L443.22 533.73L443.22 534.50L443.22 535.28L443.22 536.05L443.22 536.83L443.22 537.60L443.22 538.38L443.22 539.15L443.22 539.93L443.22 540.70L442.42 540.70L442.42 539.93L442.42 539.15L442.42 538.38L442.42 537.60L442.42 536.83L442.42 536.05L442.42 535.28L442.42 534.50L442.42 533.73L442.42 532.95L442.42 532.18L442.42 531.40L442.42 530.62L442.42 529.85L442.42 529.08L442.42 528.30L442.42 527.53L442.42 526.75L442.42 525.98L442.42 525.20M439.22 540.70L440.02 540.70L440.82 540.70L441.62 540.70L442.42 540.70M443.22 540.70L444.02 540.70L444.82 540.70L445.62 540.70L446.42 540.70M545.42 539.15L545.42 538.38L546.22 536.05L547.02 535.28L547.82 534.50L549.42 533.73L553.42 532.18L555.82 530.62L556.62 529.08L556.62 528.30L556.62 527.53L555.82 525.98L555.02 525.20L552.62 524.43L551.82 524.43L551.02 524.43L550.22 524.43L549.42 524.43L547.02 525.20L546.22 525.98L545.42 527.53L545.42 528.30L546.22 529.08L547.02 528.30L546.22 527.53M545.42 539.15L546.22 538.38L547.02 538.38L547.82 538.38L551.82 539.93L552.62 539.93L553.42 539.93L554.22 539.93L555.82 539.15L556.62 538.38L556.62 537.60L556.62 536.83M545.42 539.15L545.42 539.93L545.42 540.70M547.82 538.38L551.82 540.70L552.62 540.70L553.42 540.70L554.22 540.70L555.02 540.70L555.82 539.93L556.62 538.38M549.42 533.73L551.02 532.95L552.62 532.18L555.02 530.62L555.82 529.08L555.82 528.30L555.82 527.53L555.02 525.98L554.22 525.20L552.62 524.43M245.20 557.18L245.97 557.18L246.74 557.18L247.51 557.18L248.28 557.18L249.05 557.18L249.82 557.18L250.59 557.18M245.20 573.45L245.97 573.45L246.74 573.45L247.51 573.45L247.51 572.68L247.51 571.90L247.51 571.12L247.51 570.35L247.51 569.58L247.51 568.80L247.51 568.03L247.51 567.25L247.51 566.48L247.51 565.70L247.51 564.93L247.51 564.15L247.51 563.38L247.51 562.60L247.51 561.83L247.51 561.05L247.51 560.28L247.51 559.50L247.51 558.73L247.51 557.95L247.51 557.18M247.51 573.45L248.28 573.45L248.28 572.68L248.28 571.90L248.28 571.12L248.28 570.35L248.28 569.58L248.28 568.80L248.28 568.03L248.28 567.25L248.28 566.48L248.28 565.70L248.28 564.93L248.28 564.15L248.28 563.38L248.28 562.60L248.28 561.83L248.28 561.05L248.28 560.28L248.28 559.50L248.28 558.73L248.28 557.95L248.28 557.18M248.28 573.45L249.05 573.45L249.82 573.45L250.59 573.45L251.36 573.45L252.13 573.45L252.90 573.45L253.67 573.45L254.44 573.45L255.21 573.45L255.98 573.45L256.75 568.80L256.75 569.58L256.75 570.35L256.75 571.12L256.75 571.90L256.75 572.68L256.75 573.45L255.98 573.45M264.63 562.60L265.40 562.60L266.17 562.60L267.71 563.38L268.48 564.15L269.25 564.93L270.02 567.25L270.02 568.03L270.02 568.80L269.25 571.12L268.48 571.90L267.71 572.68L266.17 573.45L268.48 572.68L269.25 571.90L270.02 571.12L270.79 568.80L270.79 568.03L270.79 567.25L270.02 564.93L269.25 564.15L268.48 563.38L266.17 562.60M264.63 562.60L262.32 563.38L261.55 564.15L260.78 564.93L260.01 567.25L260.01 568.03L260.01 568.80L260.78 571.12L261.55 571.90L262.32 572.68L264.63 573.45L263.09 572.68L262.32 571.90L261.55 571.12L260.78 568.80L260.78 568.03L260.78 567.25L261.55 564.93L262.32 564.15L263.09 563.38L264.63 562.60M264.63 573.45L265.40 573.45L266.17 573.45M275.61 571.90L275.61 571.12L276.38 569.58L277.15 568.80L276.38 567.25L276.38 566.48L276.38 565.70L277.15 564.15L277.92 563.38L279.46 562.60L280.23 562.60L281.00 562.60L282.54 563.38L283.31 564.15L284.08 563.38L285.62 562.60L285.62 563.38L284.85 563.38L284.08 563.38M275.61 571.90L276.38 572.68L278.69 573.45L279.46 573.45L280.23 573.45L281.00 573.45L281.77 573.45L282.54 573.45L284.85 574.23L285.62 575.78L284.85 575.00L282.54 574.23L281.77 574.23L281.00 574.23L280.23 574.23L279.46 574.23L278.69 574.23L276.38 573.45L275.61 571.90M277.15 568.80L277.92 569.58L277.15 568.03L277.15 567.25L277.15 566.48L277.15 565.70L277.15 564.93L277.92 563.38M277.92 569.58L279.46 570.35L280.23 570.35L281.00 570.35L282.54 569.58L283.31 568.03L283.31 567.25L283.31 566.48L283.31 565.70L283.31 564.93L282.54 563.38M277.92 573.45L275.61 574.23L274.84 575.78L274.84 576.55L275.61 578.10L277.92 578.88L278.69 578.88L279.46 578.88L280.23 578.88L281.00 578.88L281.77 578.88L282.54 578.88L284.85 578.10L285.62 576.55L285.62 575.78M282.54 569.58L283.31 568.80L284.08 567.25L284.08 566.48L284.08 565.70L283.31 564.15M295.05 555.62L295.82 554.85L296.59 554.08M295.05 555.62L294.28 557.18L293.51 558.73L292.74 561.05L291.97 564.93L291.97 565.70L291.97 566.48L291.97 567.25L291.97 568.03L292.74 571.90L293.51 574.23L294.28 575.78L295.05 577.33L293.51 575.00L292.74 573.45L291.97 571.90L291.20 568.03L291.20 567.25L291.20 566.48L291.20 565.70L291.20 564.93L291.97 561.05L292.74 559.50L293.51 557.95L295.05 555.62M295.05 577.33L295.82 578.10L296.59 578.88M300.58 557.18L301.35 557.18L302.12 557.18L302.89 557.18L303.66 557.18L303.66 557.95L303.66 558.73L303.66 559.50L303.66 560.28L303.66 561.05L303.66 561.83L303.66 562.60L303.66 563.38L303.66 564.15L303.66 564.93L303.66 565.70L303.66 566.48L303.66 567.25L303.66 568.03L303.66 568.80L303.66 569.58L303.66 570.35L304.43 569.58L305.20 568.80L305.97 568.03L306.74 567.25L307.51 566.48L308.28 565.70L309.05 564.93L309.82 564.15L310.59 563.38L311.36 562.60L310.59 562.60L309.82 562.60L309.05 562.60M300.58 573.45L301.35 573.45L302.12 573.45L302.89 573.45L302.89 572.68L302.89 571.90L302.89 571.12L302.89 570.35L302.89 569.58L302.89 568.80L302.89 568.03L302.89 567.25L302.89 566.48L302.89 565.70L302.89 564.93L302.89 564.15L302.89 563.38L302.89 562.60L302.89 561.83L302.89 561.05L302.89 560.28L302.89 559.50L302.89 558.73L302.89 557.95L302.89 557.18M302.89 573.45L303.66 573.45L303.66 572.68L303.66 571.90L303.66 571.12L303.66 570.35M303.66 573.45L304.43 573.45L305.20 573.45L305.97 573.45M306.74 567.25L309.05 570.35L311.36 573.45L310.59 573.45L309.82 573.45L309.05 573.45M307.51 567.25L309.82 570.35L312.13 573.45L311.36 573.45M311.36 562.60L312.13 562.60L312.90 562.60L313.67 562.60M312.13 573.45L312.90 573.45L313.67 573.45M329.44 557.18L330.21 557.18L330.98 557.18L331.75 557.18L332.52 557.18L333.29 559.50L334.06 561.83L334.83 564.15L335.60 566.48L336.37 568.80L337.14 571.12M329.44 573.45L330.21 573.45L330.98 573.45L331.75 573.45L331.75 572.68L331.75 571.90L331.75 571.12L331.75 570.35L331.75 569.58L331.75 568.80L331.75 568.03L331.75 567.25L331.75 566.48L331.75 565.70L331.75 564.93L331.75 564.15L331.75 563.38L331.75 562.60L331.75 561.83L331.75 561.05L331.75 560.28L331.75 559.50L331.75 558.73L331.75 557.95L331.75 557.18L332.52 559.50L333.29 561.83L334.06 564.15L334.83 566.48L335.60 568.80L336.37 571.12L337.14 573.45L337.91 571.12L338.68 568.80L339.45 566.48L340.22 564.15L340.99 561.83L341.76 559.50L342.53 557.18L343.30 557.18L344.07 557.18L344.84 557.18L345.61 557.18M331.75 573.45L332.52 573.45L333.29 573.45L334.06 573.45M340.22 573.45L340.99 573.45L341.76 573.45L342.53 573.45L342.53 572.68L342.53 571.90L342.53 571.12L342.53 570.35L342.53 569.58L342.53 568.80L342.53 568.03L342.53 567.25L342.53 566.48L342.53 565.70L342.53 564.93L342.53 564.15L342.53 563.38L342.53 562.60L342.53 561.83L342.53 561.05L342.53 560.28L342.53 559.50L342.53 558.73L342.53 557.95L342.53 557.18M342.53 573.45L343.30 573.45L343.30 572.68L343.30 571.90L343.30 571.12L343.30 570.35L343.30 569.58L343.30 568.80L343.30 568.03L343.30 567.25L343.30 566.48L343.30 565.70L343.30 564.93L343.30 564.15L343.30 563.38L343.30 562.60L343.30 561.83L343.30 561.05L343.30 560.28L343.30 559.50L343.30 558.73L343.30 557.95L343.30 557.18M343.30 573.45L344.07 573.45L344.84 573.45L345.61 573.45M348.94 562.60L349.71 562.60L350.48 562.60L351.25 562.60L352.02 562.60L352.02 563.38L352.02 564.15L352.02 564.93L352.79 564.15L353.56 563.38L355.10 562.60L355.87 562.60L356.64 562.60L358.18 563.38L358.95 564.15L359.72 564.93L360.49 567.25L360.49 568.03L360.49 568.80L359.72 571.12L358.95 571.90L358.18 572.68L356.64 573.45L358.95 572.68L359.72 571.90L360.49 571.12L361.26 568.80L361.26 568.03L361.26 567.25L360.49 564.93L359.72 564.15L358.95 563.38L356.64 562.60M348.94 578.88L349.71 578.88L350.48 578.88L351.25 578.88L351.25 578.10L351.25 577.33L351.25 576.55L351.25 575.78L351.25 575.00L351.25 574.23L351.25 573.45L351.25 572.68L351.25 571.90L351.25 571.12L351.25 570.35L351.25 569.58L351.25 568.80L351.25 568.03L351.25 567.25L351.25 566.48L351.25 565.70L351.25 564.93L351.25 564.15L351.25 563.38L351.25 562.60M351.25 578.88L352.02 578.88L352.02 578.10L352.02 577.33L352.02 576.55L352.02 575.78L352.02 575.00L352.02 574.23L352.02 573.45L352.02 572.68L352.02 571.90L352.02 571.12L352.02 570.35L352.02 569.58L352.02 568.80L352.02 568.03L352.02 567.25L352.02 566.48L352.02 565.70L352.02 564.93M352.02 571.12L352.79 571.90L353.56 572.68L355.10 573.45L355.87 573.45L356.64 573.45M352.02 578.88L352.79 578.88L353.56 578.88L354.33 578.88M370.71 562.60L371.48 562.60L372.25 562.60L373.02 562.60L374.56 563.38L375.33 564.15L376.10 564.93L376.10 565.70L375.33 566.48L374.56 565.70L375.33 564.93M370.71 562.60L368.40 563.38L367.63 564.15L366.86 564.93L366.09 567.25L366.09 568.03L366.09 568.80L366.86 571.12L367.63 571.90L368.40 572.68L370.71 573.45L369.17 572.68L368.40 571.90L367.63 571.12L366.86 568.80L366.86 568.03L366.86 567.25L367.63 564.93L368.40 564.15L369.17 563.38L370.71 562.60M370.71 573.45L371.48 573.45L372.25 573.45L374.56 572.68L375.33 571.90L376.10 571.12M380.14 578.88L387.07 566.48L394.00 554.08M397.30 557.18L398.07 557.18L398.84 557.18L399.61 557.18L400.38 557.18L400.38 557.95L400.38 558.73L400.38 559.50L400.38 560.28L400.38 561.05L400.38 561.83L400.38 562.60L400.38 563.38L400.38 564.15L400.38 564.93L401.15 564.15L401.92 563.38L404.23 562.60L405.00 562.60L405.77 562.60L407.31 563.38L408.08 564.93L408.08 565.70L408.08 566.48L408.08 567.25L408.08 568.03L408.08 568.80L408.08 569.58L408.08 570.35L408.08 571.12L408.08 571.90L408.08 572.68L408.08 573.45L407.31 573.45L406.54 573.45L405.77 573.45M397.30 573.45L398.07 573.45L398.84 573.45L399.61 573.45L399.61 572.68L399.61 571.90L399.61 571.12L399.61 570.35L399.61 569.58L399.61 568.80L399.61 568.03L399.61 567.25L399.61 566.48L399.61 565.70L399.61 564.93L399.61 564.15L399.61 563.38L399.61 562.60L399.61 561.83L399.61 561.05L399.61 560.28L399.61 559.50L399.61 558.73L399.61 557.95L399.61 557.18M399.61 573.45L400.38 573.45L400.38 572.68L400.38 571.90L400.38 571.12L400.38 570.35L400.38 569.58L400.38 568.80L400.38 568.03L400.38 567.25L400.38 566.48L400.38 565.70L400.38 564.93M400.38 573.45L401.15 573.45L401.92 573.45L402.69 573.45M405.77 562.60L408.08 563.38L408.85 564.93L408.85 565.70L408.85 566.48L408.85 567.25L408.85 568.03L408.85 568.80L408.85 569.58L408.85 570.35L408.85 571.12L408.85 571.90L408.85 572.68L408.85 573.45L408.08 573.45M408.85 573.45L409.62 573.45L410.39 573.45L411.16 573.45M415.23 554.08L416.00 554.85L416.77 555.62L417.54 557.18L418.31 558.73L419.08 561.05L419.85 564.93L419.85 565.70L419.85 566.48L419.85 567.25L419.85 568.03L419.08 571.90L418.31 574.23L417.54 575.78L416.77 577.33L418.31 575.00L419.08 573.45L419.85 571.90L420.62 568.03L420.62 567.25L420.62 566.48L420.62 565.70L420.62 564.93L419.85 561.05L419.08 559.50L418.31 557.95L416.77 555.62M415.23 578.88L416.00 578.10L416.77 577.33"/><path stroke-width="1.4" d="M93.85 501.45L94.67 501.45L95.48 501.45L97.11 502.25L97.92 503.05L98.74 504.65L99.56 508.65L99.56 509.45L99.56 510.25L99.56 511.05L98.74 515.05L97.92 516.65L97.11 517.45L95.48 518.25L97.92 517.45L99.56 515.05L100.37 511.05L100.37 510.25L100.37 509.45L100.37 508.65L99.56 504.65L97.92 502.25L95.48 501.45M93.85 501.45L91.41 502.25L89.78 504.65L88.96 508.65L88.96 509.45L88.96 510.25L88.96 511.05L89.78 515.05L91.41 517.45L93.85 518.25L92.22 517.45L91.41 516.65L90.59 515.05L89.78 511.05L89.78 510.25L89.78 509.45L89.78 508.65L90.59 504.65L91.41 503.05L92.22 502.25L93.85 501.45M93.85 518.25L94.67 518.25L95.48 518.25M73.47 412.69L73.47 411.89L74.29 409.49L75.11 408.69L75.92 407.89L77.55 407.09L81.62 405.49L84.07 403.89L84.89 402.29L84.89 401.49L84.89 400.69L84.07 399.09L83.25 398.29L80.81 397.49L80.00 397.49L79.18 397.49L78.37 397.49L77.55 397.49L75.11 398.29L74.29 399.09L73.47 400.69L73.47 401.49L74.29 402.29L75.11 401.49L74.29 400.69M73.47 412.69L74.29 411.89L75.11 411.89L75.92 411.89L80.00 413.49L80.81 413.49L81.62 413.49L82.44 413.49L84.07 412.69L84.89 411.89L84.89 411.09L84.89 410.29M73.47 412.69L73.47 413.49L73.47 414.29M75.92 411.89L80.00 414.29L80.81 414.29L81.62 414.29L82.44 414.29L83.25 414.29L84.07 413.49L84.89 411.89M77.55 407.09L79.18 406.29L80.81 405.49L83.25 403.89L84.07 402.29L84.07 401.49L84.07 400.69L83.25 399.09L82.44 398.29L80.81 397.49M93.85 397.49L94.67 397.49L95.48 397.49L97.11 398.29L97.92 399.09L98.74 400.69L99.56 404.69L99.56 405.49L99.56 406.29L99.56 407.09L98.74 411.09L97.92 412.69L97.11 413.49L95.48 414.29L97.92 413.49L99.56 411.09L100.37 407.09L100.37 406.29L100.37 405.49L100.37 404.69L99.56 400.69L97.92 398.29L95.48 397.49M93.85 397.49L91.41 398.29L89.78 400.69L88.96 404.69L88.96 405.49L88.96 406.29L88.96 407.09L89.78 411.09L91.41 413.49L93.85 414.29L92.22 413.49L91.41 412.69L90.59 411.09L89.78 407.09L89.78 406.29L89.78 405.49L89.78 404.69L90.59 400.69L91.41 399.09L92.22 398.29L93.85 397.49M93.85 414.29L94.67 414.29L95.48 414.29M78.37 310.33L79.18 310.33L80.00 310.33L80.81 310.33L80.81 309.53L80.81 308.73L80.81 307.93L80.81 307.13L80.81 306.33L80.81 305.53L80.81 304.73L80.81 303.93L80.81 303.13L80.81 302.33L80.81 301.53L80.81 300.73L80.81 299.93L80.81 299.13L80.81 298.33L80.81 297.53L80.81 296.73L80.81 295.93L80.81 295.13M80.81 310.33L81.62 310.33L81.62 309.53L81.62 308.73L81.62 307.93L81.62 307.13L81.62 306.33L81.62 305.53L81.62 304.73L81.62 303.93L81.62 303.13L81.62 302.33L81.62 301.53L81.62 300.73L81.62 299.93L81.62 299.13L81.62 298.33L81.62 297.53L81.62 296.73L81.62 295.93L81.62 295.13L81.62 294.33L81.62 293.53L72.66 305.53L73.47 305.53L74.29 305.53L75.11 305.53L75.92 305.53L76.73 305.53L77.55 305.53L78.37 305.53L79.18 305.53L80.00 305.53L80.81 305.53L81.62 305.53L82.44 305.53L83.25 305.53L84.07 305.53L84.89 305.53L85.70 305.53M81.62 310.33L82.44 310.33L83.25 310.33L84.07 310.33M93.85 293.53L94.67 293.53L95.48 293.53L97.11 294.33L97.92 295.13L98.74 296.73L99.56 300.73L99.56 301.53L99.56 302.33L99.56 303.13L98.74 307.13L97.92 308.73L97.11 309.53L95.48 310.33L97.92 309.53L99.56 307.13L100.37 303.13L100.37 302.33L100.37 301.53L100.37 300.73L99.56 296.73L97.92 294.33L95.48 293.53M93.85 293.53L91.41 294.33L89.78 296.73L88.96 300.73L88.96 301.53L88.96 302.33L88.96 303.13L89.78 307.13L91.41 309.53L93.85 310.33L92.22 309.53L91.41 308.73L90.59 307.13L89.78 303.13L89.78 302.33L89.78 301.53L89.78 300.73L90.59 296.73L91.41 295.13L92.22 294.33L93.85 293.53M93.85 310.33L94.67 310.33L95.48 310.33M74.29 200.77L75.11 198.37L75.92 197.57L76.73 196.77L79.18 195.97L80.00 195.97L81.62 196.77L82.44 197.57L83.25 198.37L84.07 200.77L84.07 201.57L83.25 203.97L82.44 204.77L81.62 205.57L80.00 206.37L82.44 205.57L83.25 204.77L84.07 203.97L84.89 201.57L84.89 200.77L84.07 198.37L83.25 197.57L82.44 196.77L80.00 195.97M74.29 200.77L74.29 199.97L74.29 199.17L74.29 198.37L74.29 197.57L74.29 196.77L75.11 193.57L75.92 191.97L76.73 191.17L77.55 190.37L79.18 189.57L80.00 189.57L80.81 189.57L81.62 189.57L83.25 190.37L84.07 191.97L84.07 192.77L83.25 193.57L82.44 192.77L83.25 191.97M74.29 200.77L74.29 201.57L75.11 203.97L75.92 204.77L76.73 205.57L78.37 206.37L75.92 205.57L75.11 204.77L74.29 203.97L73.47 201.57L73.47 200.77L73.47 199.97L73.47 199.17L73.47 198.37L73.47 197.57L73.47 196.77L74.29 193.57L75.11 191.97L75.92 191.17L76.73 190.37L79.18 189.57M78.37 206.37L79.18 206.37L80.00 206.37M93.85 189.57L94.67 189.57L95.48 189.57L97.11 190.37L97.92 191.17L98.74 192.77L99.56 196.77L99.56 197.57L99.56 198.37L99.56 199.17L98.74 203.17L97.92 204.77L97.11 205.57L95.48 206.37L97.92 205.57L99.56 203.17L100.37 199.17L100.37 198.37L100.37 197.57L100.37 196.77L99.56 192.77L97.92 190.37L95.48 189.57M93.85 189.57L91.41 190.37L89.78 192.77L88.96 196.77L88.96 197.57L88.96 198.37L88.96 199.17L89.78 203.17L91.41 205.57L93.85 206.37L92.22 205.57L91.41 204.77L90.59 203.17L89.78 199.17L89.78 198.37L89.78 197.57L89.78 196.77L90.59 192.77L91.41 191.17L92.22 190.37L93.85 189.57M93.85 206.37L94.67 206.37L95.48 206.37M77.55 85.61L78.37 85.61L79.18 85.61L80.00 85.61L80.81 85.61L82.44 86.41L83.25 88.01L83.25 88.81L83.25 89.61L83.25 90.41L82.44 92.01L80.81 92.81L83.25 92.01L84.07 90.41L84.07 89.61L84.07 88.81L84.07 88.01L83.25 86.41L80.81 85.61M77.55 85.61L75.11 86.41L74.29 88.01L74.29 88.81L74.29 89.61L74.29 90.41L75.11 92.01L77.55 92.81L75.92 92.01L75.11 90.41L75.11 89.61L75.11 88.81L75.11 88.01L75.92 86.41L77.55 85.61M77.55 92.81L78.37 92.81L79.18 92.81L80.00 92.81L80.81 92.81L82.44 93.61L83.25 94.41L84.07 96.01L84.07 96.81L84.07 97.61L84.07 98.41L84.07 99.21L83.25 100.81L82.44 101.61L80.81 102.41L83.25 101.61L84.07 100.81L84.89 99.21L84.89 98.41L84.89 97.61L84.89 96.81L84.89 96.01L84.07 94.41L83.25 93.61L80.81 92.81M77.55 92.81L75.11 93.61L74.29 94.41L73.47 96.01L73.47 96.81L73.47 97.61L73.47 98.41L73.47 99.21L74.29 100.81L75.11 101.61L77.55 102.41L75.92 101.61L75.11 100.81L74.29 99.21L74.29 98.41L74.29 97.61L74.29 96.81L74.29 96.01L75.11 94.41L75.92 93.61L77.55 92.81M77.55 102.41L78.37 102.41L79.18 102.41L80.00 102.41L80.81 102.41M93.85 85.61L94.67 85.61L95.48 85.61L97.11 86.41L97.92 87.21L98.74 88.81L99.56 92.81L99.56 93.61L99.56 94.41L99.56 95.21L98.74 99.21L97.92 100.81L97.11 101.61L95.48 102.41L97.92 101.61L99.56 99.21L100.37 95.21L100.37 94.41L100.37 93.61L100.37 92.81L99.56 88.81L97.92 86.41L95.48 85.61M93.85 85.61L91.41 86.41L89.78 88.81L88.96 92.81L88.96 93.61L88.96 94.41L88.96 95.21L89.78 99.21L91.41 101.61L93.85 102.41L92.22 101.61L91.41 100.81L90.59 99.21L89.78 95.21L89.78 94.41L89.78 93.61L89.78 92.81L90.59 88.81L91.41 87.21L92.22 86.41L93.85 85.61M93.85 102.41L94.67 102.41L95.48 102.41"/></g>
</svg></body></html>
